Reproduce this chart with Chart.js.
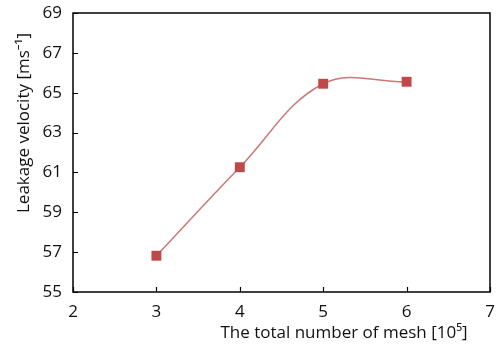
<!DOCTYPE html>
<html>
<head>
<meta charset="utf-8">
<script src="https://cdn.jsdelivr.net/npm/chart.js@4"></script>
<style>
  html, body { margin: 0; padding: 0; background: #fff; }
  #wrap { width: 497px; height: 344px; }
</style>
</head>
<body>
<div id="wrap"><canvas id="c" width="497" height="344"></canvas></div>
<script>
// Mesh count (×10^5) and leakage velocity results
const meshCounts = [3, 4, 5, 6];
const leakageVelocity = [56.82, 61.26, 65.45, 65.55];
const xTicks = [2, 3, 4, 5, 6, 7];
const yTicks = [55, 57, 59, 61, 63, 65, 67, 69];

const xTitle = 'The total number of mesh [10\u2075]';
const yTitle = 'Leakage velocity [ms\u207B\u00B9]';
const FONT = '"Open Sans", "Noto Sans", sans-serif';

// Frame, inward ticks and offset axis titles
const framePlugin = {
  id: 'frame',
  afterDraw(chart) {
    const { ctx, chartArea: a, scales } = chart;
    ctx.save();
    ctx.strokeStyle = '#000';
    ctx.lineWidth = 1.5;
    ctx.strokeRect(a.left, a.top, a.right - a.left, a.bottom - a.top);
    ctx.lineWidth = 1.2;
    ctx.beginPath();
    xTicks.forEach(v => {
      const x = Math.round(scales.x.getPixelForValue(v)) + 0.5;
      ctx.moveTo(x, a.bottom);
      ctx.lineTo(x, a.bottom - 5);
    });
    yTicks.forEach(v => {
      const y = Math.round(scales.y.getPixelForValue(v)) + 0.5;
      ctx.moveTo(a.left, y);
      ctx.lineTo(a.left + 5, y);
    });
    ctx.stroke();

    ctx.fillStyle = '#111';
    ctx.font = '17px ' + FONT;
    ctx.textBaseline = 'alphabetic';
    ctx.textAlign = 'center';
    ctx.fillText(xTitle, 344, 338);
    ctx.translate(29, 123);
    ctx.rotate(-Math.PI / 2);
    ctx.fillText(yTitle, 0, 0);
    ctx.restore();
  }
};

new Chart(document.getElementById('c'), {
  type: 'line',
  data: {
    datasets: [{
      data: meshCounts.map((x, i) => ({ x, y: leakageVelocity[i] })),
      borderColor: '#cb7878',
      borderWidth: 1.5,
      tension: 0.38,
      pointStyle: 'rect',
      pointRadius: 7,
      pointBackgroundColor: '#c0474a',
      pointBorderColor: '#c0474a',
      pointBorderWidth: 0
    }]
  },
  options: {
    responsive: false,
    animation: false,
    layout: { padding: { left: 0, right: 3, top: 13, bottom: 0 } },
    plugins: { legend: { display: false }, tooltip: { enabled: false } },
    scales: {
      x: {
        type: 'linear',
        min: 2, max: 7,
        afterBuildTicks: s => { s.ticks = xTicks.map(v => ({ value: v })); },
        afterFit: s => { s.height = 52; s.paddingLeft = 0; s.paddingRight = 0; },
        grid: { display: false },
        border: { display: false },
        ticks: { color: '#111', font: { family: FONT, size: 17 }, padding: 2, maxRotation: 0 }
      },
      y: {
        min: 55, max: 69,
        afterBuildTicks: s => { s.ticks = yTicks.map(v => ({ value: v })); },
        afterFit: s => { s.width = 73; s.paddingTop = 0; s.paddingBottom = 0; },
        grid: { display: false },
        border: { display: false },
        ticks: { color: '#111', font: { family: FONT, size: 17 }, padding: 3 }
      }
    }
  },
  plugins: [framePlugin]
});
</script>
</body>
</html>
